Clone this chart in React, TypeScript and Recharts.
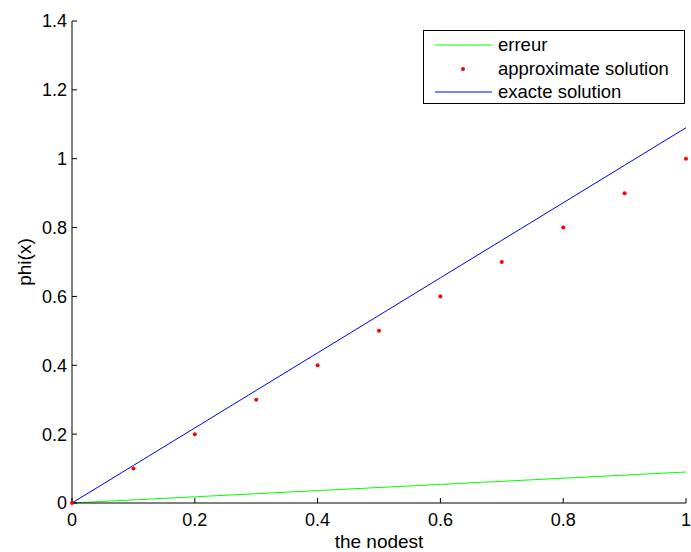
import { ComposedChart, Line, XAxis, YAxis, Legend } from 'recharts';

const nodes = [0, 0.1, 0.2, 0.3, 0.4, 0.5, 0.6, 0.7, 0.8, 0.9, 1];
const approxValues = [0, 0.1, 0.2, 0.3, 0.4, 0.5, 0.6, 0.7, 0.8, 0.9, 1];
const exactValues = [0, 0.109, 0.218, 0.327, 0.436, 0.545, 0.654, 0.763, 0.872, 0.981, 1.09];
const errorValues = [0, 0.009, 0.018, 0.027, 0.036, 0.045, 0.054, 0.063, 0.072, 0.081, 0.09];

const xTicks = [0, 0.2, 0.4, 0.6, 0.8, 1];
const yTicks = [0, 0.2, 0.4, 0.6, 0.8, 1, 1.2, 1.4];

const data = nodes.map((x, i) => ({
  x,
  erreur: errorValues[i],
  approx: approxValues[i],
  exact: exactValues[i],
}));

const font = '"Liberation Sans", Arial, sans-serif';

const legendItems = [
  { name: 'erreur', kind: 'line', color: '#00ff00' },
  { name: 'approximate solution', kind: 'dot', color: '#ff0000' },
  { name: 'exacte solution', kind: 'line', color: '#0000ff' },
];

const MatlabLegend = () => (
  <div
    style={{
      position: 'absolute',
      left: 423,
      top: 30,
      width: 260,
      height: 72,
      border: '1px solid #000',
      background: '#fff',
      fontFamily: font,
      fontSize: 18.5,
      color: '#000',
    }}
  >
    {legendItems.map((item, i) => (
      <div
        key={item.name}
        style={{ position: 'absolute', top: 3 + i * 23.5, left: 0, height: 22, display: 'flex', alignItems: 'center', whiteSpace: 'nowrap' }}
      >
        <svg width={72} height={22} style={{ flexShrink: 0 }}>
          {item.kind === 'line' ? (
            <line x1={11} x2={68} y1={11} y2={11} stroke={item.color} strokeWidth={1} />
          ) : (
            <circle cx={39} cy={11} r={2} fill={item.color} />
          )}
        </svg>
        <span style={{ marginLeft: 2 }}>{item.name}</span>
      </div>
    ))}
  </div>
);

export default function App() {
  return (
    <div style={{ position: 'absolute', left: 0, top: 0, width: 691, height: 552, background: '#fff' }}>
      <ComposedChart width={691} height={552} data={data} margin={{ top: 21, right: 5, bottom: 0, left: 0 }}>
        <XAxis
          dataKey="x"
          type="number"
          domain={[0, 1]}
          ticks={xTicks}
          height={49}
          tickSize={-5}
          tickMargin={15}
          axisLine={{ stroke: '#000' }}
          tickLine={{ stroke: '#000' }}
          tick={{ fill: '#000', fontSize: 18, fontFamily: font }}
          label={{ value: 'the nodest', position: 'insideBottom', offset: 4, fill: '#000', fontSize: 19, fontFamily: font }}
        />
        <YAxis
          type="number"
          domain={[0, 1.4]}
          ticks={yTicks}
          width={72}
          tickSize={-5}
          tickMargin={10}
          axisLine={{ stroke: '#000' }}
          tickLine={{ stroke: '#000' }}
          tick={{ fill: '#000', fontSize: 18, fontFamily: font }}
          label={{ value: 'phi(x)', angle: -90, position: 'insideLeft', offset: 24, fill: '#000', fontSize: 19, fontFamily: font, style: { textAnchor: 'middle' } }}
        />
        <Legend content={() => <MatlabLegend />} wrapperStyle={{ position: 'absolute', left: 0, top: 0 }} />
        <Line dataKey="erreur" stroke="#00ff00" strokeWidth={1} dot={false} isAnimationActive={false} />
        <Line
          dataKey="approx"
          stroke="none"
          dot={{ r: 2, fill: '#ff0000', stroke: 'none' }}
          activeDot={false}
          isAnimationActive={false}
        />
        <Line dataKey="exact" stroke="#0000ff" strokeWidth={1} dot={false} isAnimationActive={false} />
      </ComposedChart>
    </div>
  );
}
